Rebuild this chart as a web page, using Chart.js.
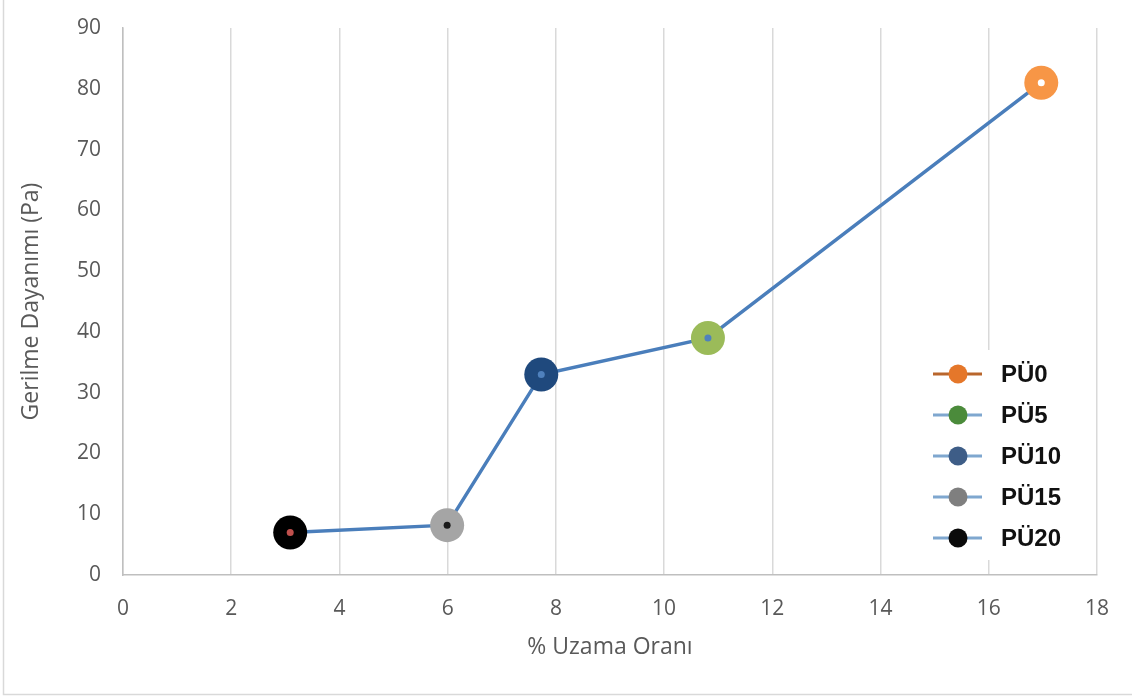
<!DOCTYPE html>
<html>
<head>
<meta charset="utf-8">
<script src="https://cdn.jsdelivr.net/npm/chart.js@4.4.0/dist/chart.umd.min.js"></script>
<style>
html, body { margin: 0; padding: 0; background: #fff; }
</style>
</head>
<body>
<canvas id="myChart" width="1132" height="697"></canvas>
<script>
// sample names and readings
var samples = ['PÜ0', 'PÜ5', 'PÜ10', 'PÜ15', 'PÜ20'];
var elongation = [16.97, 10.81, 7.73, 5.99, 3.09];   // % Uzama Oranı
var strength = [81, 39, 33, 8.2, 7];                 // Gerilme Dayanımı (Pa)
var xTickStep = 2, xMax = 18;
var yTickStep = 10, yMax = 90;

var markerColors = ['#F79646', '#9BBB59', '#1F497D', '#A5A5A5', '#000000'];
var centerColors = ['#FFFFFF', '#4F81BD', '#4F81BD', '#1A1A1A', '#C0504D'];
// legend (pasted picture in the original) has slightly different colours
var legendLineColors = ['#B9662C', '#7FA7CF', '#7FA7CF', '#7FA7CF', '#7FA7CF'];
var legendDotColors = ['#E5772A', '#4B8B3B', '#3E5D87', '#7F7F7F', '#0A0A0A'];

var points = elongation.map(function (x, i) { return { x: x, y: strength[i] }; });

var datasets = [{
    label: 'line',
    data: points,
    showLine: true,
    borderColor: '#4A7EBB',
    borderWidth: 3.5,
    pointRadius: 0,
    order: 3
}];
samples.forEach(function (name, i) {
    datasets.push({
        label: name,
        data: [points[i]],
        pointRadius: 17,
        pointHoverRadius: 17,
        backgroundColor: markerColors[i],
        borderWidth: 0,
        order: 2
    });
});
datasets.push({
    label: 'centers',
    data: points,
    pointRadius: 3.5,
    backgroundColor: centerColors,
    borderWidth: 0,
    order: 1
});

var fontFamily = '"Open Sans", sans-serif';
var grey = '#595959';

var legendPlugin = {
    id: 'pictureLegend',
    beforeDraw: function (chart) {
        var c = chart.ctx;
        c.save();
        c.strokeStyle = '#D9D9D9';
        c.lineWidth = 1.5;
        c.beginPath();
        c.moveTo(3.5, 0);
        c.lineTo(3.5, 694.5);
        c.lineTo(chart.width, 694.5);
        c.stroke();
        c.restore();
    },
    afterDraw: function (chart) {
        var c = chart.ctx;
        var ca = chart.chartArea;
        var bx = ca.right - 177, by = ca.top + 322;
        c.save();
        c.fillStyle = '#FFFFFF';
        c.fillRect(bx, by, 157, 210);
        samples.forEach(function (name, i) {
            var y = by + 24 + i * 41;
            c.strokeStyle = legendLineColors[i];
            c.lineWidth = 3;
            c.beginPath();
            c.moveTo(bx + 13, y);
            c.lineTo(bx + 62, y);
            c.stroke();
            c.fillStyle = legendDotColors[i];
            c.beginPath();
            c.arc(bx + 38, y, 9.5, 0, Math.PI * 2);
            c.fill();
            c.fillStyle = '#111111';
            c.font = 'bold 24px "Liberation Sans", Arial, sans-serif';
            c.textBaseline = 'middle';
            c.fillText(name, bx + 81, y + 1);
        });
        c.restore();
    }
};

var ctx = document.getElementById('myChart').getContext('2d');
var myChart = new Chart(ctx, {
    type: 'scatter',
    data: { datasets: datasets },
    plugins: [legendPlugin],
    options: {
        responsive: false,
        animation: false,
        layout: { padding: { left: 0, top: 28, right: 35, bottom: 0 } },
        plugins: {
            legend: { display: false },
            tooltip: { enabled: false }
        },
        scales: {
            x: {
                type: 'linear',
                min: 0,
                max: xMax,
                afterFit: function (scale) { scale.height = 122; },
                ticks: {
                    stepSize: xTickStep,
                    color: grey,
                    padding: 21,
                    font: { family: fontFamily, size: 21 }
                },
                grid: { color: '#D9D9D9', lineWidth: 1.5, drawTicks: false },
                border: { color: '#BFBFBF', width: 1.5 },
                title: {
                    display: true,
                    text: '% Uzama Oranı',
                    color: grey,
                    font: { family: fontFamily, size: 23 },
                    padding: { top: 0, bottom: 36 }
                }
            },
            y: {
                type: 'linear',
                min: 0,
                max: yMax,
                afterFit: function (scale) { scale.width = 123; },
                ticks: {
                    stepSize: yTickStep,
                    color: grey,
                    padding: 15,
                    font: { family: fontFamily, size: 21 }
                },
                // no horizontal grid; invisible tick marks only push the labels left
                grid: {
                    color: 'rgba(0,0,0,0)',
                    tickColor: 'rgba(0,0,0,0)',
                    drawTicks: true,
                    tickLength: 7
                },
                border: { display: true, color: '#BFBFBF', width: 1.5 },
                title: {
                    display: true,
                    text: 'Gerilme Dayanımı (Pa)',
                    color: grey,
                    font: { family: fontFamily, size: 23 },
                    padding: { top: 18, bottom: 0 }
                }
            }
        }
    }
});
</script>
</body>
</html>
